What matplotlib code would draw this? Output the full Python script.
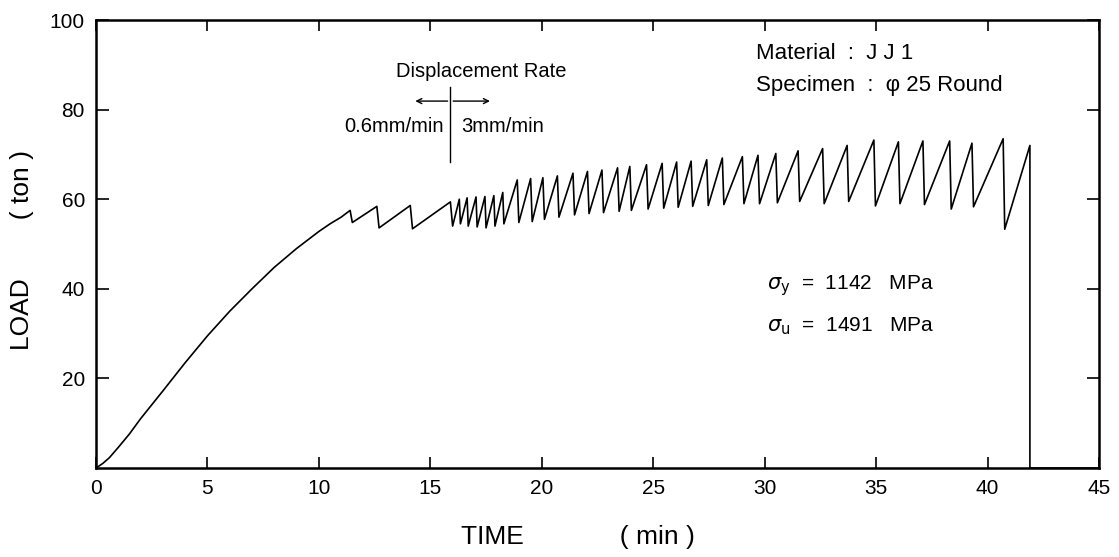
import numpy as np
import matplotlib
matplotlib.use("Agg")
import matplotlib.pyplot as plt

# -- Data (time in min, load in ton)
rise_t = [0.0, 0.3, 0.6, 1.0, 1.5, 2.0, 3.0, 4.0, 5.0, 6.0, 7.0, 8.0, 9.0, 10.0, 10.5, 11.0, 11.4]
rise_L = [0.0, 1.0, 2.3, 4.6, 7.6, 11.0, 17.2, 23.5, 29.5, 35.0, 40.0, 44.8, 49.0, 52.8, 54.5, 56.0, 57.5]

# serrations : each tooth = peak then sudden drop to a valley
peak_t = [11.4, 12.6, 14.1, 15.9,
          16.3, 16.65, 17.05, 17.45, 17.85, 18.25,
          18.9, 19.5, 20.05, 20.7, 21.4, 22.05, 22.7, 23.4, 23.95, 24.7,
          25.4, 26.05, 26.7, 27.4, 28.1, 29.0, 29.7, 30.5,
          31.5, 32.6, 33.7, 34.9, 36.0, 37.1, 38.3, 39.3, 40.7]
peak_L = [57.5, 58.4, 58.6, 59.4,
          60.0, 60.3, 60.5, 60.6, 60.8, 61.5,
          64.3, 64.6, 64.8, 65.2, 65.8, 66.2, 66.5, 67.0, 67.3, 67.7,
          68.0, 68.3, 68.5, 68.8, 69.2, 69.5, 69.8, 70.2,
          70.8, 71.3, 72.0, 73.2, 72.8, 73.0, 73.0, 72.5, 73.5]
valley_t = [11.5, 12.7, 14.2, 16.0,
            16.35, 16.7, 17.1, 17.5, 17.9, 18.3,
            18.97, 19.57, 20.12, 20.77, 21.47, 22.12, 22.77, 23.47, 24.02, 24.77,
            25.47, 26.12, 26.77, 27.47, 28.17, 29.07, 29.77, 30.57,
            31.57, 32.67, 33.77, 34.97, 36.07, 37.17, 38.37, 39.37, 40.77]
valley_L = [54.8, 53.6, 53.4, 54.0,
            54.5, 54.0, 53.8, 53.6, 54.0, 54.5,
            54.8, 55.0, 55.5, 56.0, 56.5, 56.8, 57.0, 57.3, 57.5, 57.8,
            58.0, 58.2, 58.4, 58.6, 58.8, 59.0, 59.0, 59.2,
            59.5, 59.0, 59.5, 58.5, 59.0, 58.8, 57.8, 58.3, 53.3]
# final rise and fracture
end_t = [41.9, 41.9, 45.0]
end_L = [72.0, 0.0, 0.0]

x_ticks = [0, 5, 10, 15, 20, 25, 30, 35, 40, 45]
y_ticks = [20, 40, 60, 80, 100]

# -- Build curve
t = list(rise_t)
L = list(rise_L)
for pt, pl, vt, vl in zip(peak_t, peak_L, valley_t, valley_L):
	if pt != t[-1]:
		t.append(pt)
		L.append(pl)
	t.append(vt)
	L.append(vl)
t += end_t
L += end_L

plt.rcParams['font.family'] = ['Liberation Sans', 'DejaVu Sans']
plt.rcParams['mathtext.fontset'] = 'dejavusans'

fig = plt.figure(figsize=(11.19, 5.57), dpi=100)
ax = fig.add_axes([96/1119, 1 - 468/557, (1099-96)/1119, (468-20)/557])

ax.plot(t, L, color='black', lw=1.2)

ax.set_xlim(0, 45)
ax.set_ylim(0, 100)
ax.set_xticks(x_ticks)
ax.set_yticks(y_ticks)
ax.tick_params(direction='in', length=8, width=1.2, labelsize=15, pad=8,
               top=True, right=True)
ax.tick_params(axis='y', length=9)
for sp in ax.spines.values():
	sp.set_linewidth(1.8)

ax.set_xlabel("TIME" + " " * 13 + "( min )", fontsize=19)
ax.xaxis.set_label_coords((578-96)/1003, -0.128)
ax.set_ylabel("LOAD" + " " * 8 + "( ton )", fontsize=19)
ax.yaxis.set_label_coords(-0.062, 0.487)

# -- Annotations
ax.text(29.6, 92.6, "Material  :  J J 1", fontsize=16, va='center')
ax.text(29.6, 85.3, "Specimen  :  \u03c6 25 Round", fontsize=16, va='center')

ax.text(17.3, 88.6, "Displacement Rate", fontsize=14.5, ha='center', va='center')
ax.plot([15.9, 15.9], [68.3, 85.0], color='black', lw=1)
ax.annotate("", xy=(14.2, 81.9), xytext=(15.9, 81.9),
            arrowprops=dict(arrowstyle='->', lw=1, color='black', mutation_scale=9))
ax.annotate("", xy=(17.8, 81.9), xytext=(15.9, 81.9),
            arrowprops=dict(arrowstyle='->', lw=1, color='black', mutation_scale=9))
ax.text(15.6, 76.3, "0.6mm/min", fontsize=14.5, ha='right', va='center')
ax.text(16.4, 76.3, "3mm/min", fontsize=14.5, ha='left', va='center')

ax.text(30.1, 40.8, r"$\sigma_{\rm y}$  =  1142   MPa", fontsize=15, va='center')
ax.text(30.1, 31.7, r"$\sigma_{\rm u}$  =  1491   MPa", fontsize=15, va='center')

fig.savefig("out.png", dpi=100)
